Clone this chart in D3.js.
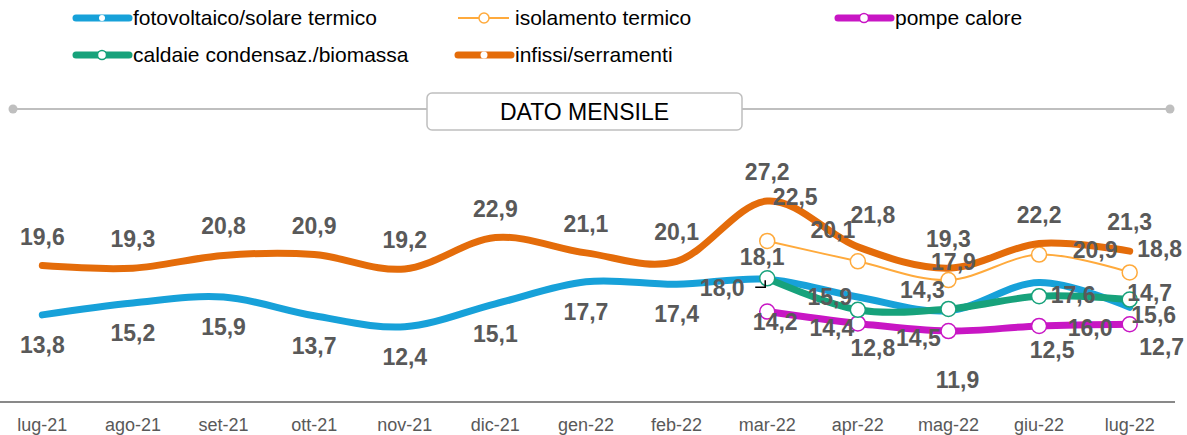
<!DOCTYPE html>
<html>
<head>
<meta charset="utf-8">
<script src="https://cdn.jsdelivr.net/npm/d3@7"></script>
<style>
  html, body { margin: 0; padding: 0; background: #fff; }
  svg { display: block; font-family: "Liberation Sans", Arial, sans-serif; }
</style>
</head>
<body>
<div id="graph"></div>
<script>
(function(){
  "use strict";

  // months on the x axis
  var months = ["lug-21", "ago-21", "set-21", "ott-21", "nov-21", "dic-21", "gen-22",
                "feb-22", "mar-22", "apr-22", "mag-22", "giu-22", "lug-22"];

  // values per series (null = no data that month)
  var fotovoltaico = [13.8, 15.2, 15.9, 13.7, 12.4, 15.1, 17.7, 17.4, 18.0, 15.9, 14.3, 17.6, 14.7];
  var isolamento   = [null, null, null, null, null, null, null, null, 22.5, 20.1, 17.9, 20.9, 18.8];
  var pompe        = [null, null, null, null, null, null, null, null, 14.2, 12.8, 11.9, 12.5, 12.7];
  var caldaie      = [null, null, null, null, null, null, null, null, 18.1, 14.4, 14.5, 16.0, 15.6];
  var infissi      = [19.6, 19.3, 20.8, 20.9, 19.2, 22.9, 21.1, 20.1, 27.2, 21.8, 19.3, 22.2, 21.3];

  var seriesNames = ["fotovoltaico/solare termico", "isolamento termico", "pompe calore",
                     "caldaie condensaz./biomassa", "infissi/serramenti"];

  var width = 1187, height = 435;

  var svg = d3.select("#graph").append("svg")
      .attr("width", width)
      .attr("height", height);

  var x = d3.scalePoint().domain(months).range([-3, 1175]).padding(0.5);
  var y = d3.scaleLinear().domain([0, 30]).range([432.2, 177.2]);

  // label nudges for the crowded part of the chart (mar-22 .. lug-22), [dx, dy] from the point
  var shiftFoto = [null, null, null, null, null, null, null, null, [-45, 9], [-28, 0], [-26, -21], [34, 12], [20, -14]];
  var shiftIsol = [null, null, null, null, null, null, null, null, [28, -44], [-25, -31], [5, -18], [56, -5], [30, -23]];
  var shiftPomp = [null, null, null, null, null, null, null, null, [8, 10], [15, 25], [9, 49], [13, 24], [32, 23]];
  var shiftCald = [null, null, null, null, null, null, null, null, [-5, -21], [-26, 18], [-30, 29], [51, 32], [24, 15]];
  var shiftInfi = [null, null, null, null, null, null, null, null, null, [15, -32], null, null, null];

  // draw order: blue, light orange, pink, green, orange
  var series = [
    {name: seriesNames[0], values: fotovoltaico, color: "#17A1D9", w: 7, marker: false, below: true,  shift: shiftFoto},
    {name: seriesNames[1], values: isolamento,   color: "#FFAA3C", w: 2, marker: true,  below: false, shift: shiftIsol},
    {name: seriesNames[2], values: pompe,        color: "#C816C4", w: 7, marker: true,  below: true,  shift: shiftPomp},
    {name: seriesNames[3], values: caldaie,      color: "#17A27B", w: 7, marker: true,  below: true,  shift: shiftCald},
    {name: seriesNames[4], values: infissi,      color: "#E46C0A", w: 7, marker: false, below: false, shift: shiftInfi}
  ];

  series.forEach(function(s) {
    s.points = s.values.map(function(v, i) { return {m: months[i], v: v, i: i}; });
  });

  // top separator with "DATO MENSILE" box
  var sep = svg.append("g").attr("class", "separator");
  sep.append("line")
      .attr("x1", 13).attr("x2", 1170)
      .attr("y1", 109).attr("y2", 109)
      .attr("stroke", "#BFBFBF").attr("stroke-width", 2);
  sep.selectAll("circle").data([13, 1170]).enter().append("circle")
      .attr("cx", function(d) { return d; }).attr("cy", 109).attr("r", 4.5)
      .attr("fill", "#BFBFBF");
  sep.append("rect")
      .attr("x", 427).attr("y", 93).attr("width", 315).attr("height", 37)
      .attr("rx", 5).attr("fill", "#fff")
      .attr("stroke", "#BFBFBF").attr("stroke-width", 1.5);
  sep.append("text")
      .attr("x", 584.5).attr("y", 112).attr("dy", "0.35em")
      .attr("text-anchor", "middle")
      .attr("font-size", "23px").attr("fill", "#000")
      .text("DATO MENSILE");

  // x axis
  svg.append("line")
      .attr("x1", 0).attr("x2", 1175)
      .attr("y1", 402).attr("y2", 402)
      .attr("stroke", "#898989").attr("stroke-width", 2);
  svg.append("g").selectAll("text").data(months).enter().append("text")
      .attr("x", function(d) { return x(d); })
      .attr("y", 425).attr("dy", "0.35em")
      .attr("text-anchor", "middle")
      .attr("font-size", "18px").attr("fill", "#595959")
      .text(function(d) { return d; });

  var line = d3.line()
      .defined(function(d) { return d.v != null; })
      .x(function(d) { return x(d.m); })
      .y(function(d) { return y(d.v); })
      .curve(d3.curveCardinal.tension(0));

  var g = svg.append("g");
  series.forEach(function(s) {
    g.append("path")
        .datum(s.points)
        .attr("fill", "none")
        .attr("stroke", s.color)
        .attr("stroke-width", s.w)
        .attr("stroke-linecap", "round")
        .attr("stroke-linejoin", "round")
        .attr("d", line);
    if (s.marker) {
      g.selectAll(null)
          .data(s.points.filter(function(d) { return d.v != null; }))
          .enter().append("circle")
          .attr("cx", function(d) { return x(d.m); })
          .attr("cy", function(d) { return y(d.v); })
          .attr("r", 7.5)
          .attr("fill", "#fff")
          .attr("stroke", s.color)
          .attr("stroke-width", 1.5);
    }
  });

  // leader line for the moved 18,0 label
  var px = x("mar-22"), py = y(fotovoltaico[8]);
  svg.append("path")
      .attr("d", "M" + (px - 2) + "," + (py + 1) + "V" + (py + 8) + "H" + (px - 12))
      .attr("fill", "none").attr("stroke", "#000").attr("stroke-width", 1.5);

  // data labels
  var fmt = function(v) { return v.toFixed(1).replace(".", ","); };
  var lab = svg.append("g");
  series.forEach(function(s) {
    lab.selectAll(null)
        .data(s.points.filter(function(d) { return d.v != null; }))
        .enter().append("text")
        .attr("x", function(d) { var sh = s.shift[d.i]; return x(d.m) + (sh ? sh[0] : 0); })
        .attr("y", function(d) { var sh = s.shift[d.i]; return y(d.v) + (sh ? sh[1] : (s.below ? 30 : -29)); })
        .attr("dy", "0.35em")
        .attr("text-anchor", "middle")
        .attr("font-size", "23px")
        .attr("font-weight", "bold")
        .attr("fill", "#595959")
        .text(function(d) { return fmt(d.v); });
  });

  // legend (two rows, same order as the source)
  var legendItems = [
    {s: series[0], x: 73,  y: 18, dot: 3},
    {s: series[1], x: 455, y: 18, dot: 5},
    {s: series[2], x: 835, y: 18, dot: 4.5},
    {s: series[3], x: 73,  y: 55, dot: 4.5},
    {s: series[4], x: 455, y: 55, dot: 3.5}
  ];
  var legend = svg.selectAll(".legend").data(legendItems).enter().append("g")
      .attr("class", "legend")
      .attr("transform", function(d) { return "translate(" + d.x + "," + d.y + ")"; });
  legend.append("line")
      .attr("x1", function(d) { return d.s.w > 3 ? 3 : 3; })
      .attr("x2", function(d) { return d.s.w > 3 ? 56 : 54; })
      .attr("y1", 0).attr("y2", 0)
      .attr("stroke", function(d) { return d.s.color; })
      .attr("stroke-width", function(d) { return d.s.w; })
      .attr("stroke-linecap", function(d) { return d.s.w > 3 ? "round" : "butt"; });
  legend.append("circle")
      .attr("cx", 29).attr("cy", 0)
      .attr("r", function(d) { return d.dot; })
      .attr("fill", "#fff")
      .attr("stroke", function(d) { return d.s.marker ? d.s.color : "none"; })
      .attr("stroke-width", 1.5);
  legend.append("text")
      .attr("x", 60).attr("y", 0).attr("dy", "0.35em")
      .attr("font-size", "21px").attr("fill", "#000")
      .text(function(d) { return d.s.name; });
})();
</script>
</body>
</html>
